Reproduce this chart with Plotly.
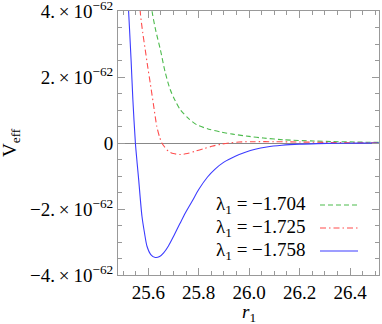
import plotly.graph_objects as go

# values in units of 1e-62
r_a = [25.600, 25.615, 25.630, 25.648, 25.667, 25.687, 25.707, 25.727, 25.760, 25.793,
       25.840, 25.890, 25.935, 26.000, 26.057, 26.135, 26.255, 26.330, 26.420, 26.515]
v_a = [5.2, 4.0, 3.4, 2.83, 2.15, 1.62, 1.28, 1.01, 0.74, 0.55,
       0.42, 0.33, 0.27, 0.20, 0.15, 0.10, 0.06, 0.045, 0.03, 0.02]

r_b = [25.555, 25.568, 25.578, 25.588, 25.598, 25.608, 25.620, 25.634, 25.645, 25.654,
       25.665, 25.680, 25.700, 25.727, 25.755, 25.786, 25.820, 25.852, 25.885, 25.920,
       25.960, 26.020, 26.100, 26.200, 26.300, 26.400, 26.515]
v_b = [6.5, 4.0, 3.35, 2.83, 2.3, 1.81, 1.2, 0.5, 0.18, 0.0,
       -0.12, -0.25, -0.32, -0.35, -0.32, -0.25, -0.17, -0.10, -0.04, 0.0,
       0.03, 0.04, 0.04, 0.03, 0.02, 0.01, 0.005]

r_c = [25.505, 25.522, 25.532, 25.539, 25.549, 25.556, 25.562, 25.575, 25.585, 25.595,
       25.610, 25.628, 25.645, 25.661, 25.680, 25.700, 25.725, 25.747, 25.775, 25.800,
       25.835, 25.865, 25.900, 25.945, 25.985, 26.024, 26.070, 26.130, 26.200, 26.270,
       26.350, 26.430, 26.515]
v_c = [6.5, 4.0, 2.5, 1.31, 0.0, -0.62, -1.11, -2.22, -2.72, -3.13,
       -3.38, -3.47, -3.44, -3.33, -3.12, -2.83, -2.45, -2.12, -1.75, -1.41,
       -1.03, -0.79, -0.58, -0.40, -0.28, -0.19, -0.12, -0.068, -0.035, -0.018,
       -0.008, -0.003, 0.0]

labels = ["λ<sub>1</sub> = −1.704", "λ<sub>1</sub> = −1.725", "λ<sub>1</sub> = −1.758"]
colors = ["#4dbb4d", "#ff4d4d", "#3c3cff"]
dashes = ["5px,3px", "6px,3px,1.5px,3px", "solid"]

y_ticks = [-4, -2, 0, 2, 4]
y_text = ["−4.\u2009×\u200910<sup>−62</sup>", "−2.\u2009×\u200910<sup>−62</sup>", "0",
          "2.\u2009×\u200910<sup>−62</sup>", "4.\u2009×\u200910<sup>−62</sup>"]
x_ticks = [25.6, 25.8, 26.0, 26.2, 26.4]
x_text = ["25.6", "25.8", "26.0", "26.2", "26.4"]

font = "'Liberation Serif', 'Times New Roman', serif"
L, R, T, B = 118, 379, 11, 275
W, H = 382, 324

fig = go.Figure()
for r, v, c, d in zip([r_a, r_b, r_c], [v_a, v_b, v_c], colors, dashes):
    fig.add_trace(go.Scatter(x=r, y=v, mode="lines",
                             line=dict(color=c, width=1.1, dash=d, shape="spline", smoothing=0.8)))

# legend drawn by hand: text first, line sample after it
for i, (lab, c, d) in enumerate(zip(labels, colors, dashes)):
    yf = (B - (205 + 23 * i)) / (B - T)
    fig.add_annotation(x=(308 - L) / (R - L), y=yf, xref="paper", yref="paper", text=lab, showarrow=False,
                       font=dict(family=font, size=19, color="black"), xanchor="right", yanchor="middle")
    fig.add_shape(type="line", xref="paper", yref="paper", x0=(320 - L) / (R - L), x1=(358 - L) / (R - L),
                  y0=yf, y1=yf, line=dict(color=c, width=1.1, dash=d))

fig.add_annotation(x=0.5, y=0, xref="paper", yref="paper", yshift=-38, text="<i>r</i><sub>1</sub>",
                   showarrow=False, font=dict(family=font, size=19, color="black"), yanchor="middle")
fig.add_annotation(x=0, y=0.5, xref="paper", yref="paper", xshift=-107, text="V<sub>eff</sub>",
                   showarrow=False, textangle=-90, font=dict(family=font, size=19, color="black"),
                   xanchor="center")

axis_style = dict(showgrid=False, showline=True, linecolor="#999999", linewidth=1, mirror="allticks",
                  ticks="inside", ticklen=7, tickcolor="#999999", tickwidth=1, automargin=False,
                  ticklabeloverflow="allow", tickfont=dict(family=font, size=19, color="black"))
fig.update_xaxes(range=[25.48, 26.515], tickvals=x_ticks, ticktext=x_text, zeroline=False,
                 minor=dict(dtick=0.05, tick0=25.6, ticks="inside", ticklen=4, tickcolor="#999999"),
                 **axis_style)
fig.update_yaxes(range=[-4, 4.001], tickvals=y_ticks, ticktext=y_text, zeroline=True,
                 zerolinecolor="#888888", zerolinewidth=1,
                 minor=dict(dtick=0.5, tick0=0, ticks="inside", ticklen=4, tickcolor="#999999"),
                 **axis_style)
fig.update_layout(width=W, height=H, margin=dict(l=L, r=W - R, t=T, b=H - B),
                  plot_bgcolor="white", paper_bgcolor="white", showlegend=False)
fig.write_html("out.html", config={"displayModeBar": False},
               post_script="document.body.style.margin='0px';")
